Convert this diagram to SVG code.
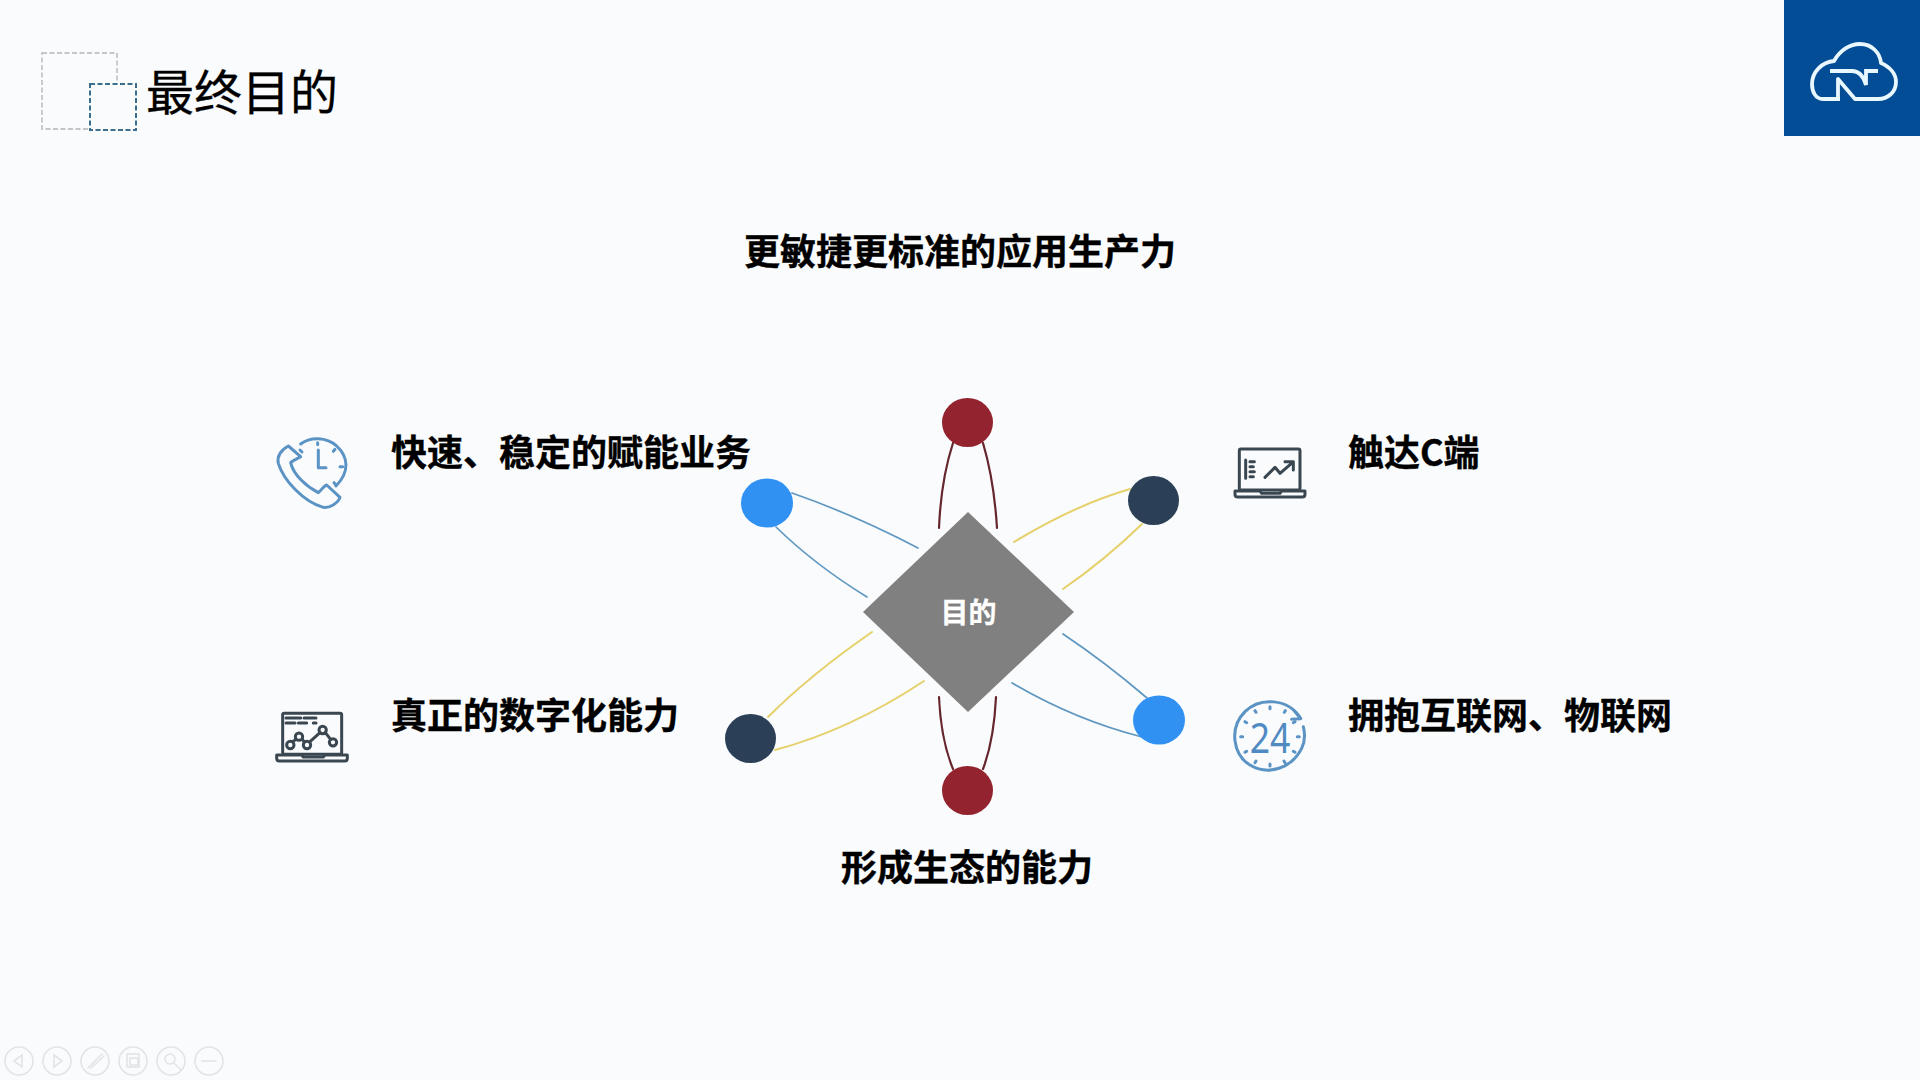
<svg xmlns="http://www.w3.org/2000/svg" width="1920" height="1080" viewBox="0 0 1920 1080">
<style>
.t{font-family:"Noto Sans CJK SC","Liberation Sans",sans-serif;font-weight:700;font-size:36px;fill:#000;stroke:#000;stroke-width:.35}
.c{fill:none;stroke-width:1.7;stroke-linecap:round}
.r{stroke:#66262e;stroke-width:2.2}.b{stroke:#5f97c0}.y{stroke:#e6d06a;stroke-width:2}
.i{fill:none;stroke-width:9;stroke-linecap:round;stroke-linejoin:round}
.ib{stroke:#5a93c4}.id{stroke:#3b4750}
.tb{fill:none;stroke:#e2e4e7;stroke-width:1.6;stroke-linecap:round}
</style>
<rect width="1920" height="1080" fill="#f9fbfd"/>
<g id="title-deco">
<rect x="42" y="53" width="75" height="76" fill="none" stroke="#c4c6c9" stroke-width="1.8" stroke-dasharray="5 2.5"/>
<rect x="90" y="84" width="46" height="46" fill="#f9fbfd" stroke="#3d6f8c" stroke-width="2" stroke-dasharray="5 2.5"/>
</g>
<text id="title" x="146" y="109.5" font-family="'Noto Sans CJK SC','Liberation Sans',sans-serif" font-size="48" fill="#000" stroke="#000" stroke-width=".3">最终目的</text>
<g id="logo">
<rect x="1784" y="0" width="136" height="136" fill="#034c96"/>
<path d="M1840 99H1823C1815 99 1812 91 1812 84C1812 72 1822 62 1834 61C1840 50 1850 44 1860 44C1872 44 1880 53 1881 63C1890 67 1896 74 1896 82C1896 92 1888 99 1878 99H1855L1838 79V99" fill="none" stroke="#e9f7ff" stroke-width="3.8" stroke-linejoin="round"/>
<path d="M1830 71H1852C1860 71 1864 78 1866 85V71H1878" fill="none" stroke="#e9f7ff" stroke-width="3.8"/>
</g>
<g id="connectors">
<path class="c r" d="M953 443Q941 480 939 528"/><path class="c r" d="M983 443Q994 480 997 528"/>
<path class="c r" d="M939 697Q941 740 953 769"/><path class="c r" d="M996 697Q994 740 983 769"/>
<path class="c b" d="M792 493Q855 515 918 548"/><path class="c b" d="M776 527Q815 565 867 597"/>
<path class="c y" d="M1130 489Q1075 505 1014 542"/><path class="c y" d="M1142 524Q1105 560 1063 589"/>
<path class="c y" d="M768 717Q810 675 872 632"/><path class="c y" d="M775 750Q850 730 924 681"/>
<path class="c b" d="M1147 698Q1105 662 1063 634"/><path class="c b" d="M1142 737Q1075 720 1012 683"/>
</g>
<g id="node-red-top"><ellipse cx="967.5" cy="422.5" rx="25.5" ry="24.5" fill="#93232e"/></g>
<g id="node-red-bottom"><ellipse cx="967.5" cy="790.5" rx="25.5" ry="24.5" fill="#93232e"/></g>
<g id="node-blue-left"><ellipse cx="767" cy="503" rx="26" ry="24.5" fill="#3091f2"/></g>
<g id="node-blue-right"><ellipse cx="1159" cy="720" rx="26" ry="24.5" fill="#3091f2"/></g>
<g id="node-navy-right"><ellipse cx="1153.5" cy="500.5" rx="25.5" ry="24.5" fill="#2b4057"/></g>
<g id="node-navy-left"><ellipse cx="750.5" cy="738.5" rx="25.5" ry="24.5" fill="#2b4057"/></g>
<g id="node-center">
<polygon points="968,512 1074,612 968,712 863,612" fill="#808080"/>
<text x="968.5" y="623" text-anchor="middle" font-family="'Noto Sans CJK SC','Liberation Sans',sans-serif" font-weight="700" font-size="28" fill="#ffffff" stroke="#fff" stroke-width=".3">目的</text>
</g>
<text class="t" x="744" y="265">更敏捷更标准的应用生产力</text>
<text class="t" x="391" y="466">快速、稳定的赋能业务</text>
<text class="t" x="1348" y="466">触达C端</text>
<text class="t" x="391" y="729">真正的数字化能力</text>
<text class="t" x="1348" y="729">拥抱互联网、物联网</text>
<text class="t" x="841" y="881">形成生态的能力</text>
<g id="icon-phone" transform="translate(260 420) scale(.3333)">
<path class="i ib" d="M85 78C62 90 50 110 55 130C70 180 130 245 190 262C210 265 235 248 240 232L200 195C190 198 185 210 175 218C140 200 100 165 92 128C100 120 115 115 122 110Z"/>
<path class="i ib" d="M122 72C150 50 200 50 230 78C265 110 270 155 228 198"/>
<path class="i ib" d="M173 68V74M120 90L126 96M225 88L220 94M240 140H248M222 188L227 195M175 90V143H198"/>
</g>
<g id="icon-laptop-line" transform="translate(260 695) scale(.3333)">
<rect class="i id" x="68" y="55" width="177" height="123" rx="5"/>
<path class="i id" d="M50 180H125L130 186H190L195 180H262V190Q262 198 255 198H58Q50 198 50 190Z"/>
<path class="i id" d="M78 69H122M132 69H168M78 84H105M115 84H140M160 84H168M100 138L108 134M127 133L133 141M150 140L180 113M196 113L212 133"/>
<circle class="i id" cx="91" cy="150" r="11"/><circle class="i id" cx="117" cy="125" r="11"/><circle class="i id" cx="141" cy="150" r="11"/><circle class="i id" cx="188" cy="105" r="11"/><circle class="i id" cx="219" cy="142" r="11"/>
</g>
<g id="icon-laptop-chart" transform="translate(1220 435) scale(.3333)">
<rect class="i id" x="58" y="42" width="182" height="123" rx="5"/>
<path class="i id" d="M45 168H120L125 175H180L185 168H255V178Q255 186 247 186H53Q45 186 45 178Z"/>
<path class="i id" d="M77 75V130M90 80H103M90 95H100M90 110H103M90 125H100M135 127L165 97L180 115L218 82M195 80H220V105"/>
</g>
<g id="icon-24" transform="translate(1220 690) scale(.3333)">
<path class="i ib" d="M242 85C205 25 120 20 75 65C25 115 40 195 90 225C145 258 215 235 245 175C255 155 255 130 250 110"/>
<path class="i ib" d="M222 62L242 86L215 88"/>
<path class="i ib" d="M150 50V56M105 62L108 67M196 62L193 67M62 140H68M232 140H238M105 218L108 213M195 218L192 213M150 228V222M75 95L80 98M225 95L220 98M75 187L80 184M225 187L220 184"/>
<text x="150" y="188" text-anchor="middle" font-family="'Noto Sans','Liberation Sans',sans-serif" font-weight="400" font-size="124" textLength="122" lengthAdjust="spacingAndGlyphs" fill="#4f8bc2">24</text>
</g>
<g id="toolbar">
<circle class="tb" cx="19" cy="1061" r="14"/><path class="tb" d="M22 1055L14 1061L22 1067Z"/>
<circle class="tb" cx="57" cy="1061" r="14"/><path class="tb" d="M54 1055L62 1061L54 1067Z"/>
<circle class="tb" cx="95" cy="1061" r="14"/><path class="tb" d="M88 1068L102 1054M91 1068L104 1056"/>
<circle class="tb" cx="133" cy="1061" r="14"/><rect class="tb" x="127" y="1054" width="12" height="13"/><rect class="tb" x="130" y="1058" width="8" height="7"/>
<circle class="tb" cx="171" cy="1061" r="14"/><circle class="tb" cx="170" cy="1059" r="5"/><path class="tb" d="M174 1063L181 1070"/>
<circle class="tb" cx="209" cy="1061" r="14"/><path class="tb" d="M202 1061H216" stroke-width="3"/>
</g>
</svg>
